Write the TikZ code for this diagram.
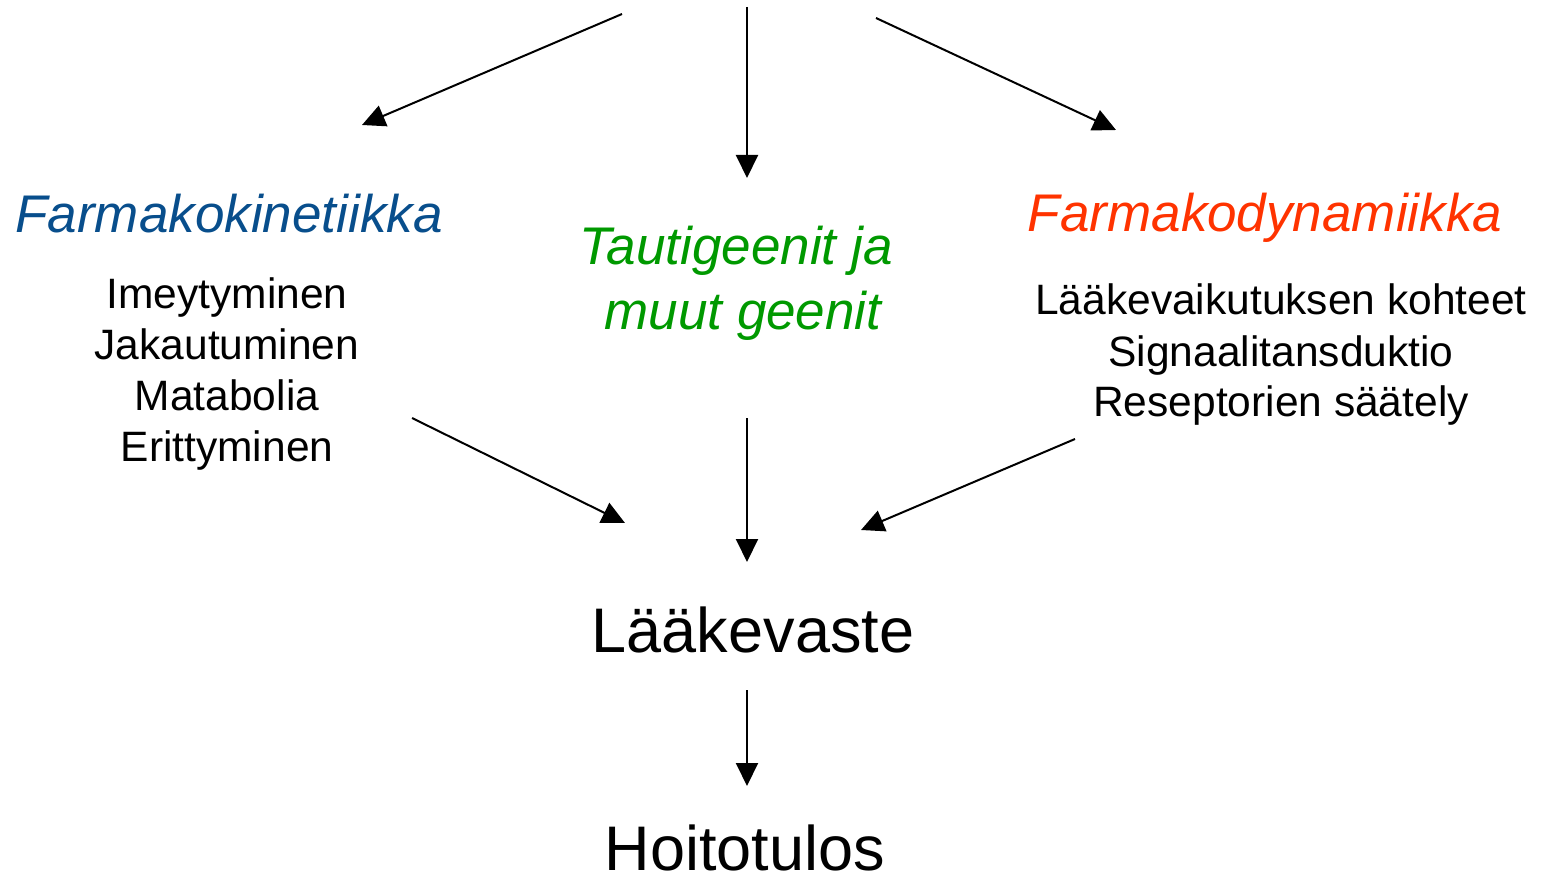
\documentclass[tikz,border=0pt]{standalone}
\usepackage{fontspec}
\setmainfont{Liberation Sans}
\usetikzlibrary{arrows.meta}
\definecolor{fkblue}{RGB}{8,78,140}
\definecolor{tggreen}{RGB}{0,153,0}
\definecolor{fdred}{RGB}{255,51,0}
\tikzset{
  conn/.style={line width=2pt, -{Triangle[length=23pt,width=22pt]}},
  title/.style={font=\fontsize{53}{65}\selectfont\itshape, inner sep=0pt, anchor=base, align=center},
  listtxt/.style={font=\fontsize{42.5}{51}\selectfont, inner sep=0pt, anchor=base, align=center},
  big/.style={font=\fontsize{63}{75}\selectfont, inner sep=0pt, anchor=base}
}
\begin{document}
\begin{tikzpicture}[x=1pt,y=-1pt]
\useasboundingbox (0,0) rectangle (1542,874);
% texts (anchor = baseline of the last line)
\node[title, text=fkblue] (fk) at (229,233) {Farmakokinetiikka};
\node[listtxt] (fklist) at (227,461) {Imeytyminen\\Jakautuminen\\Matabolia\\Erittyminen};
\node[title, text=tggreen] (tg) at (736,330) {Tautigeenit ja\\\hspace*{14pt}muut geenit};
\node[title, text=fdred] (fd) at (1265,232) {Farmakodynamiikka};
\node[listtxt] (fdlist) at (1281,417) {Lääkevaikutuksen kohteet\\Signaalitansduktio\\Reseptorien säätely};
\node[big] (lv) at (753,652) {Lääkevaste};
\node[big] (ht) at (745,870) {Hoitotulos};
% connector end points
\coordinate (s1) at (622,14);   \coordinate (e1) at (362,125);
\coordinate (s2) at (747,7);    \coordinate (e2) at (747,178);
\coordinate (s3) at (876,18);   \coordinate (e3) at (1116,130);
\coordinate (s4) at (412,418);  \coordinate (e4) at (625,523);
\coordinate (s5) at (747,418);  \coordinate (e5) at (747,562);
\coordinate (s6) at (1075,439); \coordinate (e6) at (861,530);
\coordinate (s7) at (747,690);  \coordinate (e7) at (747,786);
\draw[conn] (s1) -- (e1);
\draw[conn] (s2) -- (e2);
\draw[conn] (s3) -- (e3);
\draw[conn] (s4) -- (e4);
\draw[conn] (s5) -- (e5);
\draw[conn] (s6) -- (e6);
\draw[conn] (s7) -- (e7);
\end{tikzpicture}
\end{document}
